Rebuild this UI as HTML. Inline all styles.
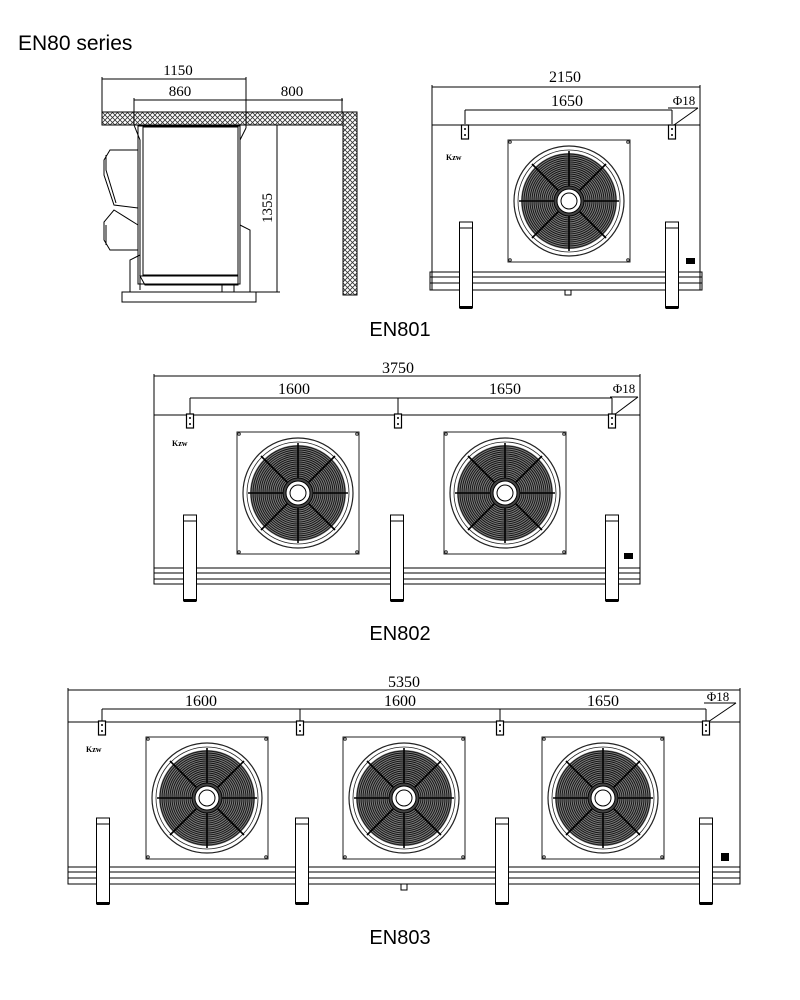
<!DOCTYPE html>
<html><head><meta charset="utf-8"><style>
html,body{margin:0;padding:0;background:#fff;}
svg{display:block}
text{font-family:"Liberation Serif",serif;}
.t{font-family:"Liberation Sans","DejaVu Sans",sans-serif;}
</style></head><body>
<svg width="800" height="1000" viewBox="0 0 800 1000" xmlns="http://www.w3.org/2000/svg">
<defs>
<pattern id="hatch" width="5" height="5" patternUnits="userSpaceOnUse">
<rect width="5" height="5" fill="#fff"/>
<path d="M0 0L5 5M5 0L0 5" stroke="#333" stroke-width="0.8"/>
</pattern>
<g id="fan">
<rect x="-61" y="-61" width="122" height="122" fill="#fff" stroke="#222" stroke-width="1"/>
<circle cx="-59" cy="-59" r="1.3" fill="none" stroke="#222"/><circle cx="59" cy="-59" r="1.3" fill="none" stroke="#222"/>
<circle cx="-59" cy="59" r="1.3" fill="none" stroke="#222"/><circle cx="59" cy="59" r="1.3" fill="none" stroke="#222"/>
<circle r="55" fill="#fff" stroke="#222" stroke-width="1.2"/>
<circle r="51" fill="none" stroke="#222" stroke-width="0.8"/>
<circle r="48" fill="#7a7a7a"/>
<g fill="none" stroke="#111" stroke-width="0.9">
<circle r="47"/><circle r="45"/><circle r="43"/><circle r="41"/><circle r="39"/><circle r="37"/><circle r="35"/><circle r="33"/><circle r="31"/><circle r="29"/><circle r="27"/><circle r="25"/><circle r="23"/><circle r="21"/><circle r="19"/><circle r="17"/>
</g>
<g stroke="#000" stroke-width="1.6">
<line x1="-50" y1="0" x2="50" y2="0"/><line x1="0" y1="-50" x2="0" y2="50"/>
<line x1="-37" y1="-37" x2="37" y2="37"/><line x1="-37" y1="37" x2="37" y2="-37"/>
</g>
<circle r="15" fill="#444" stroke="#000"/>
<circle r="12" fill="#fff" stroke="#000"/>
<circle r="8" fill="#fff" stroke="#000"/>
</g>
<g id="brk"><rect x="-3.5" y="0" width="7" height="14" fill="#fff" stroke="#000" stroke-width="1.2"/><circle cx="0" cy="4" r="1" fill="#000"/><circle cx="0" cy="10" r="1" fill="#000"/></g>
<g id="leg"><rect x="-6.5" y="0" width="13" height="86" fill="#fff" stroke="#000"/><line x1="-6.5" y1="6" x2="6.5" y2="6" stroke="#000"/><rect x="-6" y="84" width="12" height="3" fill="#000"/></g>
</defs>

<text class="t" x="18" y="50" font-size="21">EN80 series</text>

<!-- Side view -->
<g stroke="#000" fill="none" stroke-width="1">
<rect x="102" y="112" width="255" height="13" fill="url(#hatch)"/>
<rect x="343" y="112" width="14" height="183" fill="url(#hatch)"/>
<line x1="102" y1="79" x2="246" y2="79"/><line x1="102" y1="77" x2="102" y2="112"/><line x1="246" y1="77" x2="246" y2="128"/>
<line x1="134" y1="100" x2="343" y2="100"/><line x1="134" y1="98" x2="134" y2="125"/><line x1="342" y1="98" x2="342" y2="112"/>
<line x1="277" y1="125" x2="277" y2="292"/><line x1="240" y1="292" x2="280" y2="292"/>
<rect x="138" y="126" width="102" height="158"/>
<rect x="143" y="127" width="95" height="148"/>
<path d="M134 125 L140 140 L140 290 M246 128 L240 140"/>
<path d="M138 150 L110 150 L104 160 L104 175 L114 205 L138 208 M138 225 L114 210 L104 222 L104 240 L110 250 L138 250"/>
<path d="M106 155 L106 170 L116 203 M106 225 L106 245"/>
<path d="M240 225 L250 230 L250 292 M140 255 L130 260 L130 292"/>
<path d="M140 276 L238 276 L238 285 L145 285 Z"/>
<rect x="122" y="292" width="134" height="10"/>
<rect x="222" y="285" width="12" height="7"/>
</g>
<text x="178" y="75" font-size="15" text-anchor="middle">1150</text>
<text x="180" y="96" font-size="15" text-anchor="middle">860</text>
<text x="292" y="96" font-size="15" text-anchor="middle">800</text>
<text x="272" y="208" font-size="15" text-anchor="middle" transform="rotate(-90 272 208)">1355</text>

<!-- EN801 -->
<g stroke="#000" fill="none" stroke-width="1">
<line x1="432" y1="87" x2="700" y2="87"/>
<line x1="432" y1="85" x2="432" y2="290"/><line x1="700" y1="85" x2="700" y2="290"/>
<line x1="432" y1="125" x2="700" y2="125"/>
<line x1="465" y1="110" x2="672" y2="110"/><line x1="465" y1="110" x2="465" y2="124"/><line x1="672" y1="110" x2="672" y2="124"/>
<line x1="674" y1="125" x2="698" y2="108"/><line x1="668" y1="108" x2="698" y2="108"/>
<rect x="430" y="272" width="272" height="18"/><line x1="430" y1="277" x2="702" y2="277"/><line x1="430" y1="283" x2="702" y2="283"/>
<rect x="565" y="290" width="6" height="5"/>
</g>
<text x="565" y="82" font-size="16" text-anchor="middle">2150</text>
<text x="567" y="106" font-size="16" text-anchor="middle">1650</text>
<text x="684" y="105" font-size="13" text-anchor="middle">Φ18</text>
<use href="#brk" x="465" y="125"/><use href="#brk" x="672" y="125"/>
<use href="#fan" x="569" y="201"/>
<use href="#leg" x="466" y="222"/><use href="#leg" x="672" y="222"/>
<rect x="686" y="258" width="9" height="6" fill="#000"/>
<text x="446" y="160" font-size="8" font-weight="bold">Kzw</text>
<text class="t" x="400" y="336" font-size="20" text-anchor="middle">EN801</text>

<!-- EN802 -->
<g stroke="#000" fill="none" stroke-width="1">
<line x1="154" y1="376" x2="640" y2="376"/>
<line x1="154" y1="374" x2="154" y2="584"/><line x1="640" y1="374" x2="640" y2="584"/>
<line x1="154" y1="415" x2="640" y2="415"/>
<line x1="190" y1="398" x2="612" y2="398"/><line x1="190" y1="398" x2="190" y2="414"/><line x1="398" y1="398" x2="398" y2="414"/><line x1="612" y1="398" x2="612" y2="414"/>
<line x1="614" y1="415" x2="638" y2="397"/><line x1="610" y1="397" x2="638" y2="397"/>
<rect x="154" y="568" width="486" height="16"/><line x1="154" y1="573" x2="640" y2="573"/><line x1="154" y1="579" x2="640" y2="579"/>
</g>
<text x="398" y="373" font-size="16" text-anchor="middle">3750</text>
<text x="294" y="394" font-size="16" text-anchor="middle">1600</text>
<text x="505" y="394" font-size="16" text-anchor="middle">1650</text>
<text x="624" y="393" font-size="13" text-anchor="middle">Φ18</text>
<use href="#brk" x="190" y="414"/><use href="#brk" x="398" y="414"/><use href="#brk" x="612" y="414"/>
<use href="#fan" x="298" y="493"/><use href="#fan" x="505" y="493"/>
<use href="#leg" x="190" y="515"/><use href="#leg" x="397" y="515"/><use href="#leg" x="612" y="515"/>
<rect x="624" y="553" width="9" height="6" fill="#000"/>
<text x="172" y="446" font-size="8" font-weight="bold">Kzw</text>
<text class="t" x="400" y="640" font-size="20" text-anchor="middle">EN802</text>

<!-- EN803 -->
<g stroke="#000" fill="none" stroke-width="1">
<line x1="68" y1="690" x2="740" y2="690"/>
<line x1="68" y1="688" x2="68" y2="884"/><line x1="740" y1="688" x2="740" y2="884"/>
<line x1="68" y1="722" x2="740" y2="722"/>
<line x1="102" y1="709" x2="706" y2="709"/><line x1="102" y1="709" x2="102" y2="721"/><line x1="300" y1="709" x2="300" y2="721"/><line x1="500" y1="709" x2="500" y2="721"/><line x1="706" y1="709" x2="706" y2="721"/>
<line x1="708" y1="722" x2="736" y2="703"/><line x1="704" y1="703" x2="736" y2="703"/>
<rect x="68" y="867" width="672" height="17"/><line x1="68" y1="872" x2="740" y2="872"/><line x1="68" y1="878" x2="740" y2="878"/>
<rect x="401" y="884" width="6" height="6"/>
</g>
<text x="404" y="687" font-size="16" text-anchor="middle">5350</text>
<text x="201" y="706" font-size="16" text-anchor="middle">1600</text>
<text x="400" y="706" font-size="16" text-anchor="middle">1600</text>
<text x="603" y="706" font-size="16" text-anchor="middle">1650</text>
<text x="718" y="701" font-size="13" text-anchor="middle">Φ18</text>
<use href="#brk" x="102" y="721"/><use href="#brk" x="300" y="721"/><use href="#brk" x="500" y="721"/><use href="#brk" x="706" y="721"/>
<use href="#fan" x="207" y="798"/><use href="#fan" x="404" y="798"/><use href="#fan" x="603" y="798"/>
<use href="#leg" x="103" y="818"/><use href="#leg" x="302" y="818"/><use href="#leg" x="502" y="818"/><use href="#leg" x="706" y="818"/>
<rect x="721" y="853" width="8" height="8" fill="#000"/>
<text x="86" y="752" font-size="8" font-weight="bold">Kzw</text>
<text class="t" x="400" y="944" font-size="20" text-anchor="middle">EN803</text>
</svg>
</body></html>
